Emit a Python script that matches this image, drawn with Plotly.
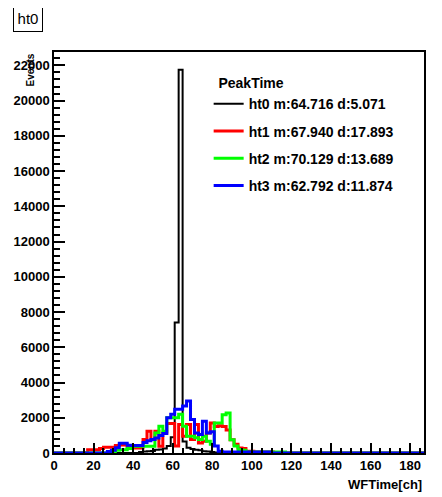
import plotly.graph_objects as go

# bin centers (bin width 2 ch), values outside this window are zero
bin_centers = list(range(16, 122, 2))
bin_width = 2
x_range = [0, 187]
y_range = [0, 22760]

ht0 = [0, 0, 0, 0, 0, 0, 0, 0, 0, 0, 0, 0, 0, 0, 50, 80, 100, 120, 180, 200, 250, 400, 900, 7400, 21750, 650,
       300, 220, 190, 150, 100, 80, 50, 30, 0, 0, 0, 0, 0, 0, 0, 0, 0, 0, 0, 0, 0, 0, 0, 0, 0, 0, 0]
ht1 = [0, 190, 190, 190, 250, 320, 320, 320, 420, 450, 450, 300, 290, 290, 290, 760, 1240, 760, 1240, 380, 1140, 1670,
       1670, 400, 1620, 950, 1620, 760, 1620, 570, 670, 1140, 1700, 1500, 1550, 1500, 1300, 750, 500, 280, 250, 100,
       100, 50, 50, 50, 50, 50, 0, 0, 0, 0, 0]
ht2 = [0, 0, 0, 0, 0, 0, 0, 70, 150, 190, 190, 250, 380, 380, 380, 380, 380, 380, 1140, 1520, 1240, 2000, 2000, 2000,
       2200, 1520, 950, 950, 860, 760, 950, 670, 500, 1700, 1700, 2170, 2270, 750, 400, 200, 150, 50, 50, 50, 50, 50,
       50, 50, 50, 50, 50, 0, 0]
ht3 = [0, 0, 0, 0, 0, 0, 80, 150, 300, 550, 560, 440, 420, 420, 420, 600, 700, 760, 850, 1000, 1100, 2000, 2200, 2480,
       2480, 2670, 2950, 1900, 1140, 1050, 1800, 1140, 1200, 400, 100, 50, 50, 50, 50, 50, 50, 50, 50, 50, 50, 50, 50,
       0, 0, 0, 0, 0, 0]

series_names = ["ht0 m:64.716 d:5.071", "ht1 m:67.940 d:17.893",
                "ht2 m:70.129 d:13.689", "ht3 m:62.792 d:11.874"]
series_values = [ht0, ht1, ht2, ht3]
series_colors = ["#000000", "#ff0000", "#00ff00", "#0000ff"]
series_widths = [2, 3, 3, 3]


def step_xy(centers, values):
    xs = [x_range[0]]
    ys = [0]
    for c, v in zip(centers, values):
        xs += [c - bin_width / 2]
        ys += [v]
    xs += [centers[-1] + bin_width / 2, x_range[1]]
    ys += [0, 0]
    return xs, ys


FONT = "Liberation Sans"
fig = go.Figure()
for i, (name, vals, col, w) in enumerate(zip(series_names, series_values, series_colors, series_widths)):
    xs, ys = step_xy(bin_centers, vals)
    fig.add_trace(go.Scatter(x=xs, y=ys, mode="lines", name=name,
                             line=dict(color=col, width=w, shape="hv"),
                             legendgroup=f"g{i}"))

# the page body adds an 8px offset, so the figure is 8px smaller on each axis
fig.update_layout(
    width=434, height=489,
    margin=dict(l=46, r=18, t=44, b=44, autoexpand=False),
    paper_bgcolor="white", plot_bgcolor="white",
    font=dict(family=FONT, size=13, color="black", weight="bold"),
    showlegend=True,
    legend=dict(x=0.418, y=0.955, xanchor="left", yanchor="top",
                bgcolor="rgba(0,0,0,0)", borderwidth=0,
                font=dict(family=FONT, size=14, color="black", weight="bold"),
                title=dict(text="&nbsp;&nbsp;PeakTime", font=dict(family=FONT, size=14, weight="bold")),
                itemwidth=30, tracegroupgap=6),
    xaxis=dict(range=x_range, showgrid=False, zeroline=False, automargin=False,
               showline=True, linecolor="black", linewidth=1.5, mirror=True,
               ticks="inside", ticklen=10, tickwidth=1.5, tickcolor="black",
               dtick=20, tick0=0,
               minor=dict(ticks="inside", ticklen=5, dtick=5, tickcolor="black", tickwidth=1.5),
               tickfont=dict(family=FONT, size=13, weight="bold")),
    yaxis=dict(range=y_range, showgrid=False, zeroline=False, automargin=False,
               showline=True, linecolor="black", linewidth=1.5, mirror=True,
               ticks="inside", ticklen=11, tickwidth=1.5, tickcolor="black",
               dtick=2000, tick0=0, tickformat="d",
               minor=dict(ticks="inside", ticklen=6, dtick=400, tickcolor="black", tickwidth=1.5),
               tickfont=dict(family=FONT, size=13, weight="bold")),
    annotations=[
        dict(text="ht0", xref="paper", yref="paper", x=-0.111, y=1.117,
             xanchor="left", yanchor="top", showarrow=False, width=24, height=21,
             font=dict(family=FONT, size=15, weight="normal"),
             bordercolor="black", borderwidth=1, borderpad=2, bgcolor="white"),
        dict(text="WFTime[ch]", xref="paper", yref="paper", x=1.0, y=-0.055,
             xanchor="right", yanchor="top", showarrow=False,
             font=dict(family=FONT, size=13, weight="bold")),
        dict(text="Events", xref="paper", yref="paper", x=0, xshift=-24, y=1.0,
             xanchor="center", yanchor="top", textangle=-90, showarrow=False,
             font=dict(family=FONT, size=10, weight="bold")),
    ],
)

fig.write_html("out.html")
